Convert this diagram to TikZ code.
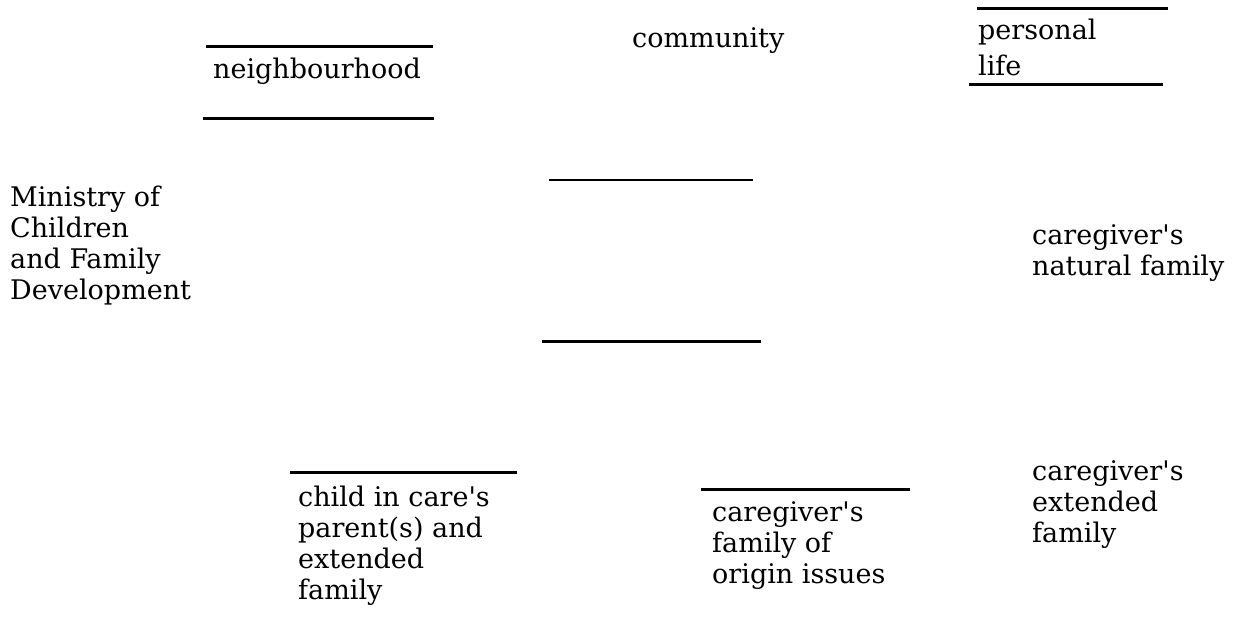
\documentclass[tikz,border=0pt]{standalone}
\usepackage{fontspec}
\setmainfont{DejaVu Serif}
\usepackage{tikz}
\usetikzlibrary{positioning}

\begin{document}
\begin{tikzpicture}[
  x=1pt, y=-1pt,
  lbl/.style={inner sep=0pt, anchor=base west, align=left,
    font=\fontsize{27}{31}\selectfont},
  rule/.style={line width=3pt},
  thinrule/.style={line width=1.6pt}
]
\useasboundingbox (0,0) rectangle (1241,617);
% labels (anchored at the baseline of the last line)
\node[lbl] (nb)  at (213,79)   {neighbourhood};
\node[lbl] (com) at (632,48)   {community};
\node[lbl, font=\fontsize{27}{36}\selectfont] (pl) at (978,76) {personal\\life};
\node[lbl] (mcf) at (10,300)   {Ministry of\\Children\\and Family\\Development};
\node[lbl] (cnf) at (1032,276) {caregiver\textquotesingle s\\natural family};
\node[lbl] (cic) at (298,599)  {child in care\textquotesingle s\\parent(s) and\\extended\\family};
\node[lbl] (cfo) at (712,583)  {caregiver\textquotesingle s\\family of\\origin issues};
\node[lbl] (cef) at (1032,542) {caregiver\textquotesingle s\\extended\\family};
% rules
\draw[rule] (206,47) -- (433,47);
\draw[rule] (203,119) -- (434,119);
\draw[rule] (977,9) -- (1168,9);
\draw[rule] (969,85) -- (1163,85);
\draw[thinrule] (549,180) -- (753,180);
\draw[rule] (542,341) -- (761,341);
\draw[rule] (290,472) -- (517,472);
\draw[rule] (701,489) -- (910,489);
\end{tikzpicture}
\end{document}
